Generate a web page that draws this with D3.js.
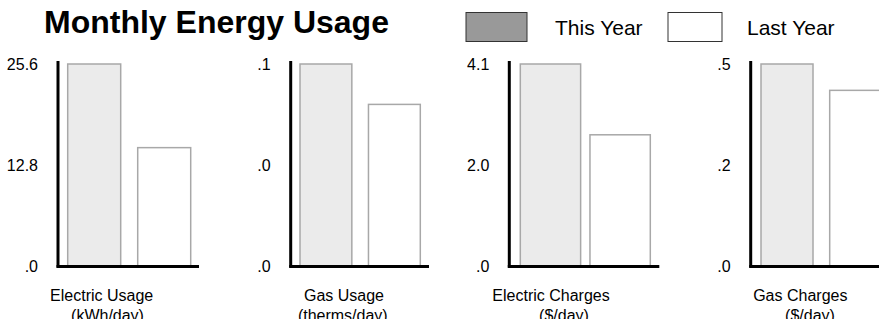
<!DOCTYPE html>
<html>
<head>
<meta charset="utf-8">
<script src="https://cdn.jsdelivr.net/npm/d3@7"></script>
<style>
  body { margin: 0; background: #fff; }
  text { font-family: "Liberation Sans", Arial, sans-serif; fill: #000; }
</style>
</head>
<body>
<script>
const w = 879,
      h = 319;

// data
const categories = ["Electric Usage", "Gas Usage", "Electric Charges", "Gas Charges"];
const units = ["(kWh/day)", "(therms/day)", "($/day)", "($/day)"];
const thisYear = [25.6, 0.070, 4.08, 0.46];
const lastYear = [15.0, 0.056, 2.65, 0.40];
const seriesNames = ["This Year", "Last Year"];

// layout of each small chart
const panels = [
  {axisX: 58,    axisEnd: 199,  barStart: 67.7,  barEnd: 190.7, inner: 0.243, label1: 101.7, label2: 107.5},
  {axisX: 290.7, axisEnd: 429,  barStart: 300,   barEnd: 420.3, inner: 0.243, label1: 344,   label2: 342.8},
  {axisX: 509.3, axisEnd: 659.3, barStart: 520.3, barEnd: 650.3, inner: 0.134, label1: 551,   label2: 564},
  {axisX: 750.7, axisEnd: 895,  barStart: 761,   barEnd: 881.7, inner: 0.243, label1: 800.3, label2: 810}
];

const fmt = v => d3.format(".1f")(v).replace(/^0\./, ".");

const svg = d3.select("body")
              .append("svg")
              .attr("width", w)
              .attr("height", h);

// title
svg.append("text")
   .attr("x", 44)
   .attr("y", 33)
   .style("font-size", "32px")
   .style("font-weight", "bold")
   .text("Monthly Energy Usage");

// legend
const legend = [
  {name: seriesNames[0], x: 466, bw: 61, fill: "#999999", tx: 555},
  {name: seriesNames[1], x: 668, bw: 54, fill: "#ffffff", tx: 747}
];
const lg = svg.append("g").attr("id", "legend");
lg.selectAll("rect")
  .data(legend)
  .enter()
  .append("rect")
  .attr("x", d => d.x)
  .attr("y", 12.5)
  .attr("width", d => d.bw)
  .attr("height", 29)
  .attr("fill", d => d.fill)
  .attr("stroke", "#333")
  .attr("stroke-width", 1);
lg.selectAll("text")
  .data(legend)
  .enter()
  .append("text")
  .attr("x", d => d.tx)
  .attr("y", 35)
  .style("font-size", "21px")
  .text(d => d.name);

const y0 = 266, y1 = 64;

panels.forEach((p, i) => {
  const vals = [thisYear[i], lastYear[i]];
  const g = svg.append("g");

  const x = d3.scaleBand()
              .domain(seriesNames)
              .range([p.barStart, p.barEnd])
              .paddingInner(p.inner)
              .paddingOuter(0);

  const y = d3.scaleLinear()
              .domain([0, d3.max(vals)])
              .range([y0, y1]);

  // bars
  g.selectAll("rect")
   .data(vals)
   .enter()
   .append("rect")
   .attr("x", (d, j) => x(seriesNames[j]))
   .attr("y", d => y(d))
   .attr("width", x.bandwidth())
   .attr("height", d => y0 - y(d))
   .attr("fill", (d, j) => j === 0 ? "#ebebeb" : "#ffffff")
   .attr("stroke", "#a8a8a8")
   .attr("stroke-width", 1.5);

  // y axis
  const yAxis = d3.axisLeft(y)
                  .tickValues([0, d3.max(vals) / 2, d3.max(vals)])
                  .tickSize(0)
                  .tickPadding(20)
                  .tickFormat(fmt);
  const ya = g.append("g")
              .attr("transform", "translate(" + p.axisX + ",0)")
              .call(yAxis);
  ya.select(".domain").remove();
  ya.selectAll("text")
    .style("font-size", "16px")
    .attr("font-family", null)
    .attr("dy", "0.36em");

  // axis lines
  g.append("line")
   .attr("x1", p.axisX).attr("x2", p.axisX)
   .attr("y1", 61).attr("y2", y0 + 1.5)
   .attr("stroke", "#000")
   .attr("stroke-width", 3);
  g.append("line")
   .attr("x1", p.axisX - 1.5).attr("x2", p.axisEnd)
   .attr("y1", y0 + 0.5).attr("y2", y0 + 0.5)
   .attr("stroke", "#000")
   .attr("stroke-width", 3);

  // category label
  g.append("text")
   .attr("x", p.label1)
   .attr("y", 301)
   .attr("text-anchor", "middle")
   .style("font-size", "16px")
   .text(categories[i]);
  g.append("text")
   .attr("x", p.label2)
   .attr("y", 321)
   .attr("text-anchor", "middle")
   .style("font-size", "16px")
   .text(units[i]);
});
</script>
</body>
</html>
